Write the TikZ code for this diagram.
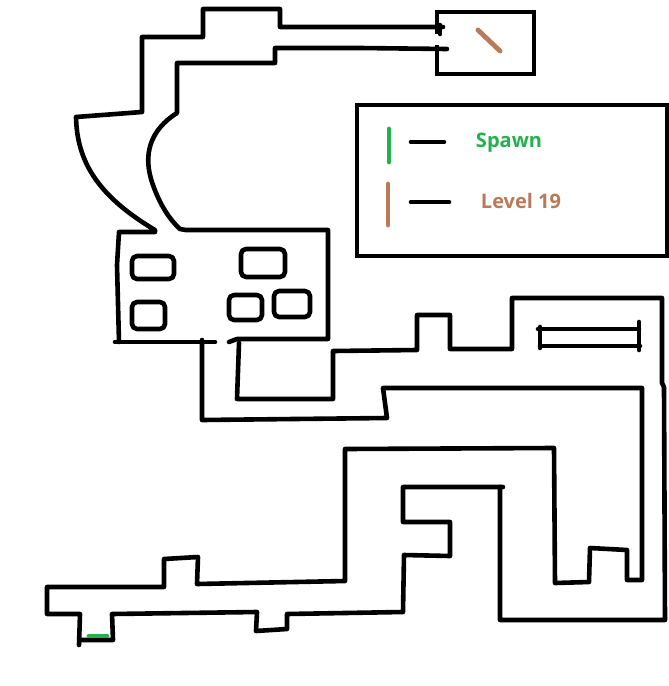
\documentclass[tikz,border=0pt]{standalone}
\usepackage{fontspec}
\setmainfont{Open Sans}
\definecolor{spawngreen}{HTML}{22B14C}
\definecolor{levelbrown}{HTML}{B97A57}
\tikzset{
  wall/.style={line width=4.6pt,line cap=round,line join=round,black},
  room/.style={wall,rounded corners=5pt},
  mark green/.style={line width=4.8pt,line cap=round,spawngreen},
  mark brown/.style={line width=4.8pt,line cap=round,levelbrown},
  legendtext/.style={font=\bfseries\fontsize{20}{22}\selectfont,inner sep=0pt,anchor=center}
}
\begin{document}
\begin{tikzpicture}[x=1pt,y=-1pt]
\useasboundingbox[fill=white] (0,0) rectangle (669,686);
% upper corridor, outer wall
\draw[wall] (443,27) -- (280,27) -- (280,9) -- (203,9) -- (203,37) -- (142,37) -- (142,112) -- (76,117)
  .. controls (77,160) and (96,195) .. (155,230) -- (155,232) -- (119,232) -- (117,265) -- (119,342);
% upper corridor, inner wall
\draw[wall] (447,49) -- (360,48) -- (275,48) -- (275,63) -- (177,63) -- (177,113)
  .. controls (150,130) and (142,155) .. (153,185) .. controls (160,205) and (170,220) .. (180,229) -- (186,230)
  -- (328,230) -- (328,339) -- (237,339) -- (229,342);
% hub bottom and south corridor
\draw[wall] (115,342) -- (215,342);
\draw[wall] (202,340) -- (202,420) -- (387,418) -- (383,388) -- (642,388) -- (642,580) -- (627,580)
  -- (627,550) -- (590,548) -- (589,582) -- (555,583) -- (554,448) -- (345,449) -- (345,581) -- (197,584)
  -- (198,557) -- (164,559) -- (164,587) -- (47,587) -- (47,614) -- (80,614) -- (79,645);
\draw[wall] (80,640) -- (113,640) -- (112,614) -- (257,612) -- (256,631) -- (287,629) -- (287,614)
  -- (403,612) -- (404,555) -- (450,556) -- (450,522) -- (403,522) -- (403,487) -- (503,487);
\draw[wall] (500,487) -- (500,620) -- (665,620) -- (664,387) -- (662,383) -- (662,298) -- (512,298)
  -- (512,349) -- (450,349) -- (450,315) -- (417,315) -- (417,350) -- (333,351) -- (333,399) -- (237,399) -- (239,343);
% closed strip on the right
\draw[wall] (540,327) -- (540,348);
\draw[wall] (538,329) -- (639,329);
\draw[wall] (639,322) -- (639,350);
\draw[wall] (640,346) -- (540,346);
% rooms in the hub
\draw[room] (132,256) rectangle (174,279);
\draw[room] (241,249) rectangle (285,277);
\draw[room] (132,302) rectangle (165,329);
\draw[room] (229,295) rectangle (262,320);
\draw[room] (274,291) rectangle (310,317);
% level 19 room
\draw[wall,line cap=butt,line join=miter] (437,34) -- (437,12) -- (534,12) -- (534,74) -- (437,74) -- (437,45);
\draw[wall] (440,25) -- (440,34);
\draw[mark brown] (478,30) -- (500,51);
% legend
\draw[wall,line cap=butt,line join=miter] (357,105) rectangle (667,256);
\draw[mark green] (389,129) -- (389,162);
\draw[wall] (411,142) -- (444,142);
\draw[mark brown] (388,184) -- (388,225);
\draw[wall] (411,202) -- (449,202);
\node[legendtext,text=spawngreen] (spawnlabel) at (509,143) {Spawn};
\node[legendtext,text=levelbrown] (levellabel) at (521,201) {Level 19};
% spawn
\draw[mark green] (89,636) -- (107,636);
\end{tikzpicture}
\end{document}
